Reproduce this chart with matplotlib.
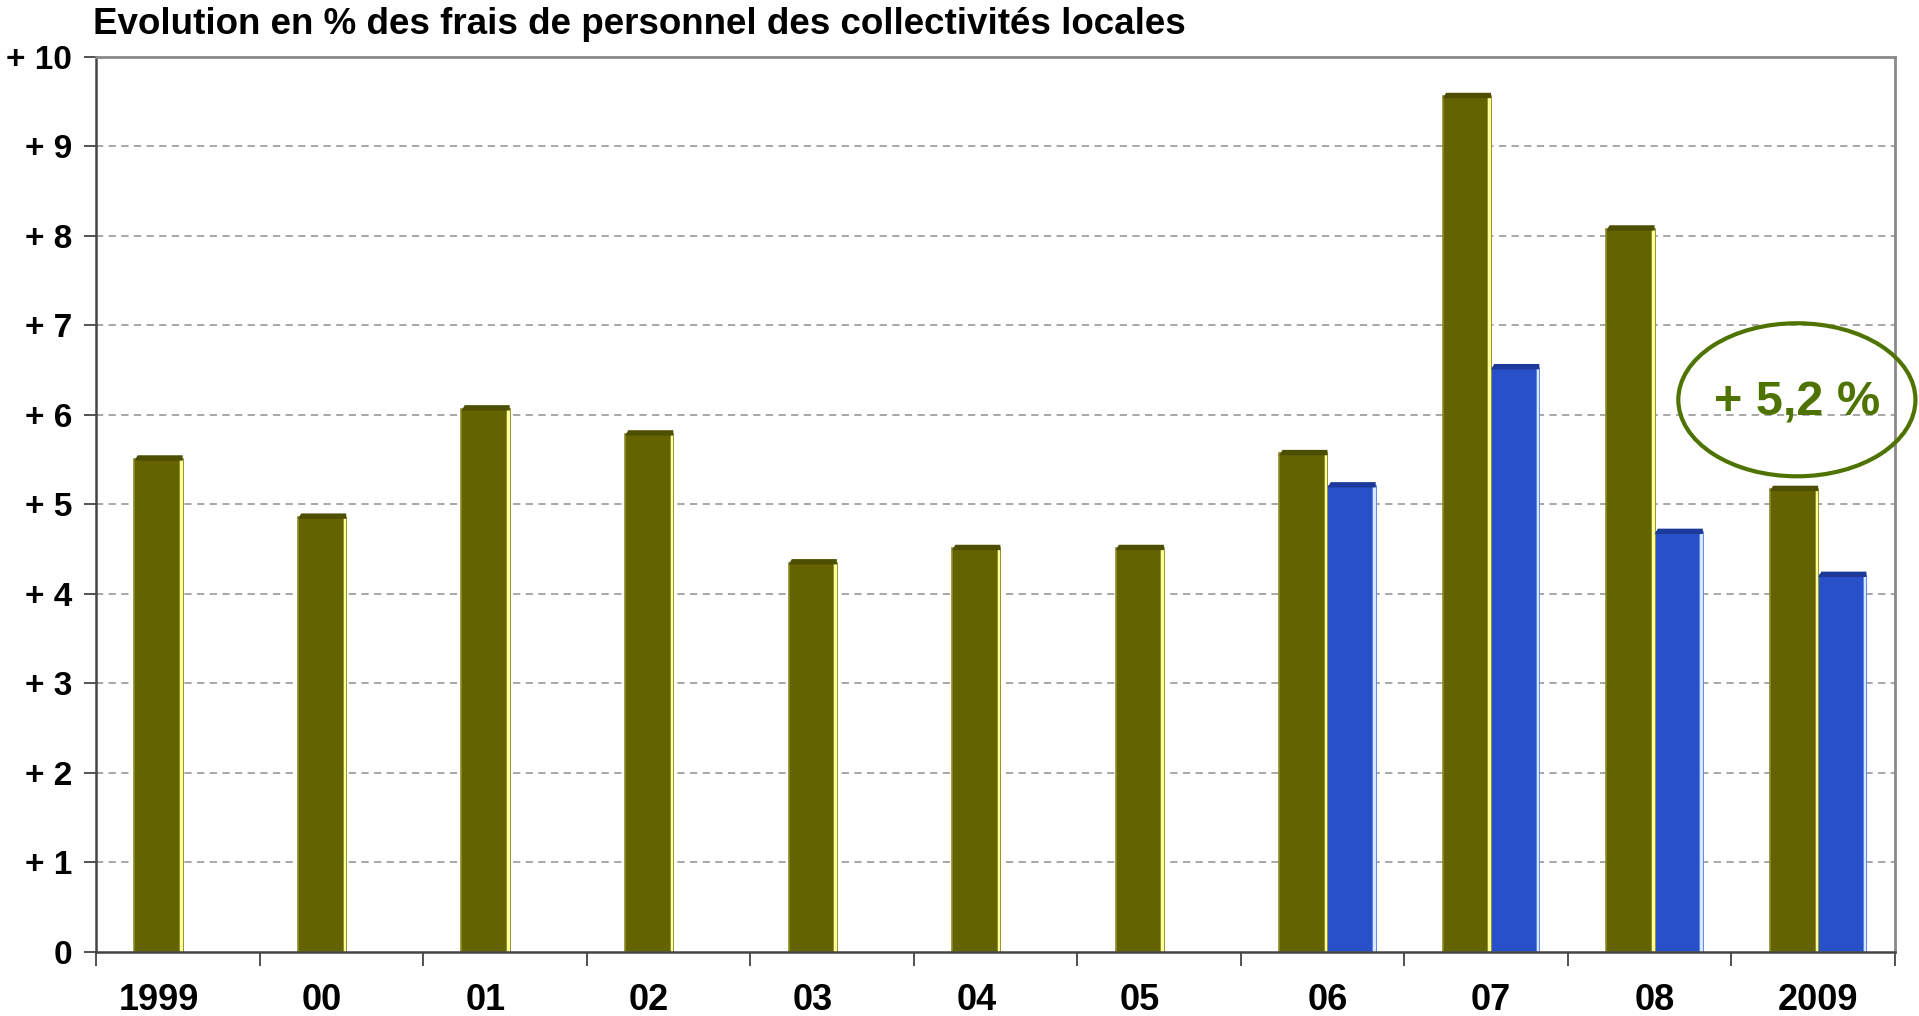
import matplotlib
matplotlib.use("Agg")
import matplotlib.pyplot as plt
from matplotlib.patches import Ellipse, Polygon
import numpy as np

plt.rcParams['font.family'] = ['Liberation Sans', 'DejaVu Sans']

categories = ["1999", "00", "01", "02", "03", "04", "05", "06", "07", "08", "2009"]
olive_vals = [5.51, 4.86, 6.07, 5.79, 4.35, 4.51, 4.51, 5.57, 9.56, 8.08, 5.17]
blue_cats = ["06", "07", "08", "2009"]
blue_vals = [5.21, 6.53, 4.69, 4.21]
y_ticks = [0, 1, 2, 3, 4, 5, 6, 7, 8, 9, 10]
y_labels = ["0", "+ 1", "+ 2", "+ 3", "+ 4", "+ 5", "+ 6", "+ 7", "+ 8", "+ 9", "+ 10"]
title = "Evolution en % des frais de personnel des collectivités locales"
callout = "+ 5,2 %"

OLIVE = "#636300"
OLIVE_EDGE = "#8c8c28"
OLIVE_HI = "#ffff99"
OLIVE_TOP = "#4e4e00"
BLUE = "#2850c8"
BLUE_EDGE = "#5a80e6"
BLUE_HI = "#d8e8ff"
BLUE_TOP = "#1c3a9a"
GREEN = "#4e7300"

fig = plt.figure(figsize=(19.19, 10.16), dpi=100)
ax = fig.add_axes([0.050, 0.063, 0.9375, 0.8809])

w = 0.295
shift = 0.03
hi_w = 0.022
x = np.arange(len(categories))


def bevel_bars(xpos, vals, face, edge, hi, top):
    ax.bar(xpos, vals, width=w, color=face, edgecolor=edge, linewidth=1.2, zorder=3)
    # light highlight on right side
    ax.bar(xpos + w / 2 - hi_w / 2, vals, width=hi_w, color=hi, edgecolor=edge,
           linewidth=0.6, zorder=4)
    # dark top cap
    for xc, v in zip(xpos, vals):
        poly = Polygon([(xc - w / 2, v - 0.02), (xc - w / 2 + 0.02, v + 0.04),
                        (xc + w / 2, v + 0.04), (xc + w / 2, v - 0.02)],
                       closed=True, facecolor=top, edgecolor="none", zorder=5)
        ax.add_patch(poly)


bevel_bars(x - w / 2 + shift, np.array(olive_vals), OLIVE, OLIVE_EDGE, OLIVE_HI, OLIVE_TOP)
bx = np.array([categories.index(c) for c in blue_cats])
bevel_bars(bx + w / 2 + shift, np.array(blue_vals), BLUE, BLUE_EDGE, BLUE_HI, BLUE_TOP)

# labels centred on the drawn bars of each category
label_pos = np.array([xi + shift if c in blue_cats else xi - w / 2 + shift
                      for xi, c in zip(x, categories)])

ax.set_xlim(-0.5, len(categories) - 0.5)
ax.set_ylim(0, 10)

ax.set_yticks(y_ticks)
ax.set_yticklabels(y_labels, fontsize=24, fontweight="bold")
ax.set_xticks(label_pos)
ax.set_xticklabels(categories, fontsize=26, fontweight="bold")
ax.set_xticks(np.arange(len(categories) + 1) - 0.5, minor=True)
ax.tick_params(axis="x", which="major", length=0, pad=22)
ax.tick_params(axis="x", which="minor", length=10, width=1.3, color="#444444", direction="out")
ax.tick_params(axis="y", which="major", length=9, width=1.3, color="#444444", pad=8)

for yv in y_ticks[1:-1]:
    ax.axhline(yv, color="#a0a0a0", linestyle=(0, (4, 3)), linewidth=1.3, zorder=1)

for s in ["top", "right"]:
    ax.spines[s].set_color("#8a8a8a")
    ax.spines[s].set_linewidth(2)
ax.spines["left"].set_color("#444444")
ax.spines["left"].set_linewidth(1.8)
ax.spines["bottom"].set_color("#444444")
ax.spines["bottom"].set_linewidth(1.8)
ax.spines["bottom"].set_zorder(6)

fig.text(0.0485, 0.976, title, fontsize=26.5, fontweight="bold", ha="left", va="center")

ell = Ellipse((9.9, 6.17), 1.45, 1.71, facecolor="none", edgecolor=GREEN,
              linewidth=3, zorder=7, clip_on=False)
ax.add_patch(ell)
ax.text(9.9, 6.13, callout, fontsize=35, fontweight="bold", color=GREEN,
        ha="center", va="center", zorder=8, clip_on=False)

fig.savefig("out.png", dpi=100)
